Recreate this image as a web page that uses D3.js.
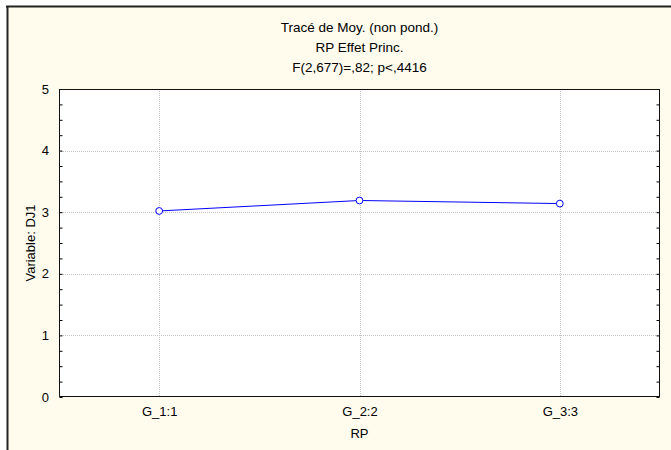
<!DOCTYPE html>
<html><head><meta charset="utf-8">
<script src="https://cdn.jsdelivr.net/npm/d3@7"></script>
<style>body{margin:0;background:#fff}svg{display:block}text{font-family:"Liberation Sans",Arial,sans-serif;fill:#000}</style>
</head><body>
<script>
const categories = ["G_1:1","G_2:2","G_3:3"];
const means = [3.02, 3.19, 3.14];
const yTicks = [0,1,2,3,4,5];
const titleLines = ["Tracé de Moy. (non pond.)","RP Effet Princ.","F(2,677)=,82; p<,4416"];
const xLabel = "RP";
const yLabel = "Variable: DJ1";

const W=671,H=450;
const m={left:59,right:11,top:89,bottom:53};
const svg=d3.select("body").append("svg").attr("width",W).attr("height",H);
svg.append("rect").attr("x",8).attr("y",7).attr("width",W-8).attr("height",H-7).attr("fill","#fffcee");
svg.append("line").attr("x1",7.5).attr("x2",7.5).attr("y1",6).attr("y2",H).attr("stroke","#222").attr("stroke-width",2);
svg.append("line").attr("x1",6).attr("x2",W).attr("y1",6.5).attr("y2",6.5).attr("stroke","#222").attr("stroke-width",2);

const x=d3.scalePoint().domain(categories).range([m.left,W-m.right]).padding(0.5);
const y=d3.scaleLinear().domain([0,5]).range([H-m.bottom,m.top]);

svg.append("rect").attr("x",m.left).attr("y",m.top).attr("width",W-m.right-m.left).attr("height",H-m.bottom-m.top).attr("fill","#fff");

// grid
svg.append("g").selectAll("line").data(yTicks.filter(d=>d>0&&d<5)).join("line")
 .attr("x1",m.left).attr("x2",W-m.right).attr("y1",d=>Math.round(y(d))+0.5).attr("y2",d=>Math.round(y(d))+0.5)
 .attr("stroke","#c4c4c4").attr("stroke-dasharray","1,1");
svg.append("g").selectAll("line").data(categories).join("line")
 .attr("y1",m.top).attr("y2",H-m.bottom).attr("x1",d=>Math.round(x(d))+0.5).attr("x2",d=>Math.round(x(d))+0.5)
 .attr("stroke","#c4c4c4").attr("stroke-dasharray","1,1");

// axes
const minor=d3.range(0,5.001,0.25);
const gl=svg.append("g").attr("transform",`translate(${m.left+0.5},0)`)
 .call(d3.axisLeft(y).tickValues(minor).tickSize(-3).tickFormat(""));
gl.select(".domain").remove();
const gr=svg.append("g").attr("transform",`translate(${W-m.right-0.5},0)`)
 .call(d3.axisRight(y).tickValues(minor).tickSize(-3).tickFormat(""));
gr.select(".domain").remove();
const gy=svg.append("g").attr("transform",`translate(${m.left},0)`)
 .call(d3.axisLeft(y).tickValues(yTicks).tickSize(0).tickPadding(10).tickFormat(d3.format("d")));
gy.select(".domain").remove();
gy.selectAll("text").attr("font-size",13).attr("font-family","Liberation Sans, Arial");
const gx=svg.append("g").attr("transform",`translate(0,${H-m.bottom})`)
 .call(d3.axisBottom(x).tickSize(0).tickPadding(10));
gx.select(".domain").remove();
gx.selectAll("text").attr("font-size",13).attr("font-family","Liberation Sans, Arial");

// frame
svg.append("rect").attr("x",m.left+0.5).attr("y",m.top+0.5).attr("width",W-m.right-m.left-1).attr("height",H-m.bottom-m.top-1)
 .attr("fill","none").attr("stroke","#111");

// line
svg.append("path").datum(means).attr("fill","none").attr("stroke","#0000ff").attr("stroke-width",1)
 .attr("d",d3.line().x((d,i)=>x(categories[i])).y(d=>y(d)));
svg.append("g").selectAll("circle").data(means).join("circle")
 .attr("cx",(d,i)=>x(categories[i])).attr("cy",d=>y(d)).attr("r",3.4)
 .attr("fill","#fff").attr("stroke","#0000ff").attr("stroke-width",1);

// titles
svg.append("g").selectAll("text").data(titleLines).join("text")
 .attr("x",(m.left+W-m.right)/2).attr("y",(d,i)=>31.5+i*20.2).attr("text-anchor","middle").attr("font-size",13.5).text(d=>d);
svg.append("text").attr("x",(m.left+W-m.right)/2).attr("y",438).attr("text-anchor","middle").attr("font-size",13).text(xLabel);
svg.append("text").attr("transform",`translate(35,${(m.top+H-m.bottom)/2}) rotate(-90)`).attr("text-anchor","middle").attr("font-size",13).text(yLabel);
</script>
</body></html>
